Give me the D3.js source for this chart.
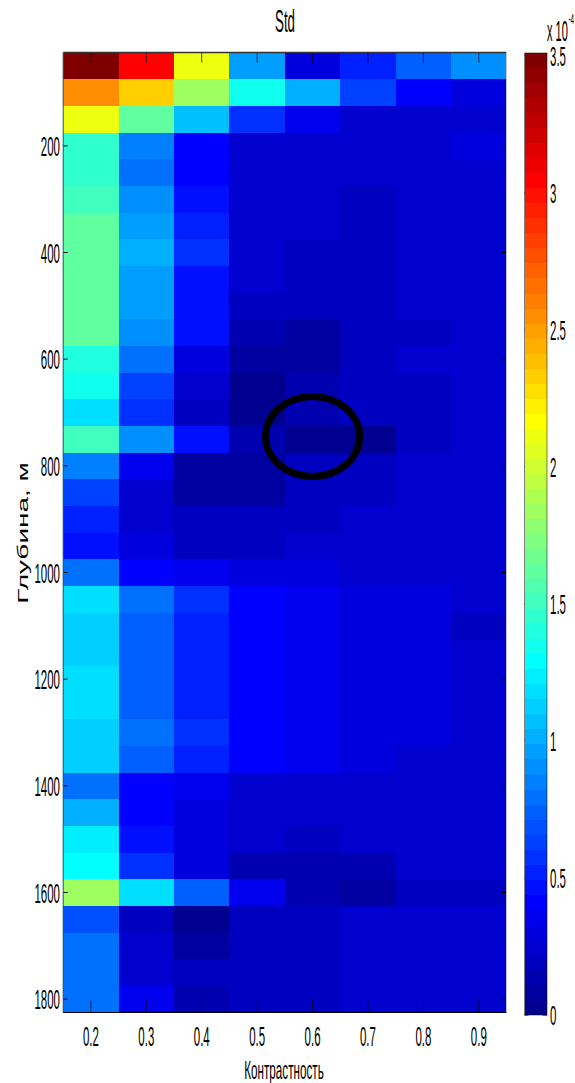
<!DOCTYPE html>
<html><head><meta charset="utf-8">
<script src="https://cdnjs.cloudflare.com/ajax/libs/d3/7.8.5/d3.min.js"></script>
<style>html,body{margin:0;padding:0;background:#fff}svg{display:block}text{font-family:"Liberation Sans",Arial,sans-serif;fill:#000}</style>
</head><body><svg id="c" width="575" height="1083"></svg>
<script>
const contrast=[0.2,0.3,0.4,0.5,0.6,0.7,0.8,0.9];
const depths=[50,100,150,200,250,300,350,400,450,500,550,600,650,700,750,800,850,900,950,1000,1050,1100,1150,1200,1250,1300,1350,1400,1450,1500,1550,1600,1650,1700,1750,1800];
const c02=[3.5,2.57,2.15,1.49,1.47,1.56,1.66,1.66,1.66,1.66,1.66,1.45,1.38,1.19,1.56,.885,.68,.54,.51,.82,1.2,1.16,1.16,1.2,1.2,1.17,1.17,.85,1.02,1.25,1.32,1.87,.73,.8,.8,.8];
const c03=[3.07,2.37,1.64,.87,.8,.92,.99,1.04,.99,.99,.94,.8,.66,.61,.94,.37,.28,.29,.33,.46,.82,.77,.77,.77,.79,.83,.79,.42,.42,.52,.63,1.2,.21,.29,.28,.38];
const c04=[2.15,1.87,1.09,.44,.44,.49,.56,.58,.51,.51,.49,.33,.29,.2,.51,.1,.12,.2,.23,.37,.61,.56,.56,.56,.55,.61,.56,.38,.33,.33,.31,.75,.08,.09,.2,.16];
const c05=[.99,1.38,.61,.28,.28,.28,.27,.27,.25,.24,.14,.09,.07,.03,.19,.1,.12,.2,.22,.33,.44,.44,.44,.44,.43,.43,.43,.3,.26,.26,.18,.37,.21,.21,.21,.2];
const c06=[.31,1.02,.38,.27,.27,.27,.27,.2,.2,.2,.13,.12,.15,.17,.03,.2,.2,.21,.25,.33,.4,.4,.4,.4,.4,.4,.4,.25,.25,.24,.18,.18,.2,.2,.2,.2];
const c07=[.54,.64,.25,.25,.25,.22,.22,.22,.22,.22,.23,.2,.2,.2,.07,.2,.2,.27,.27,.27,.33,.33,.33,.33,.33,.32,.32,.27,.27,.25,.19,.12,.25,.25,.25,.25];
const c08=[.77,.44,.25,.26,.26,.26,.26,.26,.26,.26,.22,.25,.2,.2,.2,.27,.27,.27,.27,.27,.31,.31,.31,.31,.31,.31,.29,.28,.28,.28,.27,.2,.25,.25,.25,.25];
const c09=[.92,.31,.25,.31,.27,.27,.27,.27,.27,.27,.27,.27,.27,.27,.27,.27,.27,.27,.27,.27,.3,.24,.27,.27,.27,.26,.26,.27,.27,.27,.27,.2,.25,.25,.25,.25];
const columns=[c02,c03,c04,c05,c06,c07,c08,c09];
const xTicks=[0.2,0.3,0.4,0.5,0.6,0.7,0.8,0.9];
const yTicks=[200,400,600,800,1000,1200,1400,1600,1800];
const cbTicks=[0,0.5,1,1.5,2,2.5,3,3.5];
const vMax=3.51;

const svg=d3.select("#c");
const x=d3.scaleLinear().domain([0.15,0.95]).range([63.2,506.5]);
const y=d3.scaleLinear().domain([25,1825]).range([52.5,1012.5]);
const cb=d3.scaleLinear().domain([0,vMax]).range([1015,53]);
const jet=d3.scaleLinear()
  .domain([0,.125,.375,.625,.875,1])
  .range(["#000080","#0000ff","#00ffff","#ffff00","#ff0000","#800000"]);
const bands=64;
const band=v=>Math.max(0,Math.min(bands-1,Math.round(v/vMax*bands)-1));
const bandColor=i=>jet((i+1)/bands);

function label(s,px,py,size,sx,anchor,rot){
  const g=svg.append("text").text(s).attr("font-size",size).attr("text-anchor",anchor||"middle");
  g.attr("transform",`translate(${px},${py})${rot?` rotate(${rot})`:""} scale(${sx},1)`);
  return g;
}

columns.forEach((col,ci)=>{
  svg.append("g").attr("shape-rendering","crispEdges").selectAll("rect").data(col).join("rect")
    .attr("x",x(contrast[ci]-0.05))
    .attr("width",x(contrast[ci]+0.05)-x(contrast[ci]-0.05))
    .attr("y",(d,i)=>y(depths[i]-25))
    .attr("height",(d,i)=>y(depths[i]+25)-y(depths[i]-25))
    .attr("fill",d=>bandColor(band(d)));
});

// axes
const tickG=svg.append("g").attr("stroke","#000").attr("stroke-width",1);
xTicks.forEach(t=>{
  tickG.append("line").attr("x1",x(t)).attr("x2",x(t)).attr("y1",y.range()[0]).attr("y2",y.range()[0]+10).attr("stroke-opacity",.7);
  tickG.append("line").attr("x1",x(t)).attr("x2",x(t)).attr("y1",y.range()[1]).attr("y2",y.range()[1]-12).attr("stroke-opacity",.7);
  label(d3.format(".1f")(t),x(t),1045.5,28,.41);
});
yTicks.forEach(t=>{
  tickG.append("line").attr("x1",x.range()[0]).attr("x2",x.range()[0]+4.5).attr("y1",y(t)).attr("y2",y(t));
  tickG.append("line").attr("x1",x.range()[1]).attr("x2",x.range()[1]-4.5).attr("y1",y(t)).attr("y2",y(t));
  label(t,60,y(t)+10,28,.41,"end");
});
svg.append("line").attr("x1",x.range()[0]).attr("x2",x.range()[1]).attr("y1",y.range()[0]).attr("y2",y.range()[0]).attr("stroke","#333").attr("stroke-width",1.5);
svg.append("line").attr("x1",x.range()[0]).attr("x2",x.range()[1]).attr("y1",y.range()[1]).attr("y2",y.range()[1]).attr("stroke","#000").attr("stroke-width",1.2);
svg.append("line").attr("x1",x.range()[0]).attr("x2",x.range()[0]).attr("y1",y.range()[0]).attr("y2",y.range()[1]).attr("stroke","#1c5a70").attr("stroke-width",1);
svg.append("line").attr("x1",x.range()[1]).attr("x2",x.range()[1]).attr("y1",y.range()[0]).attr("y2",y.range()[1]).attr("stroke","#c4c8d8").attr("stroke-width",1);

// ellipse annotation
svg.append("ellipse").attr("cx",x(0.6)).attr("cy",y(745)).attr("rx",47).attr("ry",40)
  .attr("fill","none").attr("stroke","#000").attr("stroke-width",7);

// colorbar
const cbx=524.5,cbw=22.5;
svg.append("g").attr("shape-rendering","crispEdges").selectAll("rect").data(d3.range(bands)).join("rect")
  .attr("x",cbx).attr("width",cbw)
  .attr("y",i=>cb((i+1)/bands*vMax)).attr("height",i=>cb(i/bands*vMax)-cb((i+1)/bands*vMax))
  .attr("fill",bandColor);
svg.append("rect").attr("x",cbx).attr("y",53).attr("width",cbw).attr("height",962).attr("fill","none").attr("stroke","#000").attr("stroke-opacity",.5).attr("stroke-width",1);
cbTicks.forEach(t=>{
  tickG.append("line").attr("x1",cbx).attr("x2",cbx+4).attr("y1",cb(t)).attr("y2",cb(t));
  tickG.append("line").attr("x1",cbx+cbw).attr("x2",cbx+cbw-4.5).attr("y1",cb(t)).attr("y2",cb(t));
  label(t,550,cb(t)+10,28,.41,"start");
});

// titles
label("Std",285,31.5,31,.43);
label("Контрастность",284,1079,26,.45);
label("Глубина, м",28,533,14,2.0,"middle",-90);
label("x 10",547,41,29,.38,"start");
label("-4",568.5,24,15,.42,"start");
</script></body></html>
